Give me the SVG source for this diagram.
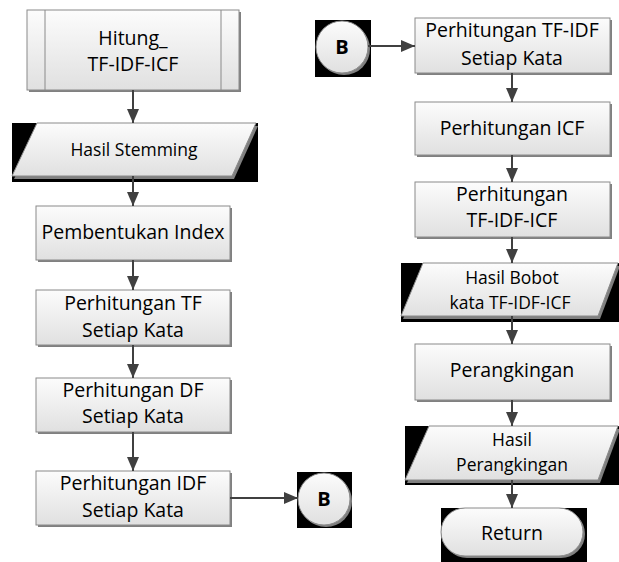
<svg xmlns="http://www.w3.org/2000/svg" width="619" height="562" viewBox="0 0 619 562">
<defs>
<linearGradient id="g" x1="0" y1="0" x2="0" y2="1">
<stop offset="0" stop-color="#fcfcfc"/>
<stop offset="1" stop-color="#e0e0e0"/>
</linearGradient>
<marker id="ah" markerWidth="14" markerHeight="12" refX="14" refY="6" orient="auto" markerUnits="userSpaceOnUse">
<path d="M0,0 L14,6 L0,12 Z" fill="#404040"/>
</marker>
<style>
.box{fill:url(#g);stroke:#8a8a8a;stroke-width:1}
.sh{fill:#808080}
.bk{fill:#000}
.t{font-family:"Open Sans",sans-serif;font-size:19.5px;fill:#000;text-anchor:middle}
.ts{font-family:"Open Sans",sans-serif;font-size:17.5px;fill:#000;text-anchor:middle}
.tb{font-family:"Open Sans",sans-serif;font-size:20px;font-weight:bold;fill:#000;text-anchor:middle}
.c{stroke:#404040;stroke-width:2;fill:none;marker-end:url(#ah)}
</style>
</defs>
<rect width="619" height="562" fill="#fff"/>

<g id="hitung">
<rect class="sh" x="29" y="12" width="212" height="80"/>
<rect class="box" x="27" y="10" width="212" height="80"/>
<line x1="45" y1="10" x2="45" y2="90" stroke="#8a8a8a"/>
<line x1="221" y1="10" x2="221" y2="90" stroke="#8a8a8a"/>
<text class="t" x="133" y="45">Hitung_</text>
<text class="t" x="133" y="71">TF-IDF-ICF</text>
</g>

<g id="hasil_stemming">
<rect class="bk" x="12" y="123" width="246" height="59"/>
<polygon class="sh" points="39,126 258,126 234,179 14,179"/>
<polygon class="box" points="37,123 256,123 232,176 12,176"/>
<text class="ts" x="134" y="156">Hasil Stemming</text>
</g>

<g id="pembentukan">
<rect class="sh" x="38" y="208" width="194" height="54"/>
<rect class="box" x="36" y="206" width="194" height="54"/>
<text class="t" x="133" y="239">Pembentukan Index</text>
</g>

<g id="tf">
<rect class="sh" x="38" y="292" width="194" height="55"/>
<rect class="box" x="36" y="290" width="194" height="55"/>
<text class="t" x="133" y="310">Perhitungan TF</text>
<text class="t" x="133" y="337">Setiap Kata</text>
</g>

<g id="df">
<rect class="sh" x="38" y="380" width="194" height="54"/>
<rect class="box" x="36" y="378" width="194" height="54"/>
<text class="t" x="133" y="397">Perhitungan DF</text>
<text class="t" x="133" y="423">Setiap Kata</text>
</g>

<g id="idf">
<rect class="sh" x="38" y="473" width="194" height="54"/>
<rect class="box" x="36" y="471" width="194" height="54"/>
<text class="t" x="133" y="490">Perhitungan IDF</text>
<text class="t" x="133" y="517">Setiap Kata</text>
</g>

<g id="b_out">
<rect class="bk" x="297" y="472" width="55" height="56"/>
<circle class="sh" cx="326" cy="501" r="26"/>
<circle class="box" cx="324" cy="499" r="26"/>
<text class="tb" x="324" y="506">B</text>
</g>

<g id="b_in">
<rect class="bk" x="315" y="20" width="56" height="57"/>
<circle class="sh" cx="344" cy="49" r="26"/>
<circle class="box" cx="342" cy="47" r="26"/>
<text class="tb" x="342" y="54">B</text>
</g>

<g id="tfidf">
<rect class="sh" x="417" y="20" width="195" height="55"/>
<rect class="box" x="415" y="18" width="195" height="55"/>
<text class="t" x="512" y="37">Perhitungan TF-IDF</text>
<text class="t" x="512" y="65">Setiap Kata</text>
</g>

<g id="icf">
<rect class="sh" x="417" y="104" width="195" height="53"/>
<rect class="box" x="415" y="102" width="195" height="53"/>
<text class="t" x="512" y="135">Perhitungan ICF</text>
</g>

<g id="tfidficf">
<rect class="sh" x="417" y="184" width="195" height="55"/>
<rect class="box" x="415" y="182" width="195" height="55"/>
<text class="t" x="512" y="201">Perhitungan</text>
<text class="t" x="512" y="227">TF-IDF-ICF</text>
</g>

<g id="hasil_bobot">
<rect class="bk" x="401" y="263" width="218" height="59"/>
<polygon class="sh" points="425,266 620,266 600,319 403,319"/>
<polygon class="box" points="423,263 618,263 598,316 401,316"/>
<text class="ts" x="512" y="284">Hasil Bobot</text>
<text class="ts" x="510" y="309">kata TF-IDF-ICF</text>
</g>

<g id="perangkingan">
<rect class="sh" x="417" y="346" width="195" height="56"/>
<rect class="box" x="415" y="344" width="195" height="56"/>
<text class="t" x="512" y="377">Perangkingan</text>
</g>

<g id="hasil_perangkingan">
<rect class="bk" x="405" y="426" width="214" height="59"/>
<polygon class="sh" points="431,429 620,429 600,483 407,483"/>
<polygon class="box" points="429,426 618,426 598,480 405,480"/>
<text class="ts" x="512" y="446">Hasil</text>
<text class="ts" x="512" y="471">Perangkingan</text>
</g>

<g id="return">
<rect class="bk" x="441" y="508" width="146" height="54"/>
<rect class="sh" x="443" y="510" width="142" height="48" rx="24"/>
<rect class="box" x="441" y="508" width="142" height="48" rx="24"/>
<text class="t" x="512" y="540">Return</text>
</g>

<g id="connectors">
<line class="c" x1="133" y1="90" x2="133" y2="123"/>
<line class="c" x1="133" y1="176" x2="133" y2="206"/>
<line class="c" x1="133" y1="260" x2="133" y2="290"/>
<line class="c" x1="133" y1="345" x2="133" y2="378"/>
<line class="c" x1="133" y1="432" x2="133" y2="471"/>
<line class="c" x1="230" y1="498" x2="298" y2="498"/>
<line class="c" x1="368" y1="46" x2="415" y2="46"/>
<line class="c" x1="512" y1="73" x2="512" y2="102"/>
<line class="c" x1="512" y1="155" x2="512" y2="182"/>
<line class="c" x1="512" y1="237" x2="512" y2="263"/>
<line class="c" x1="512" y1="316" x2="512" y2="344"/>
<line class="c" x1="512" y1="400" x2="512" y2="426"/>
<line class="c" x1="512" y1="480" x2="512" y2="508"/>
</g>
</svg>
